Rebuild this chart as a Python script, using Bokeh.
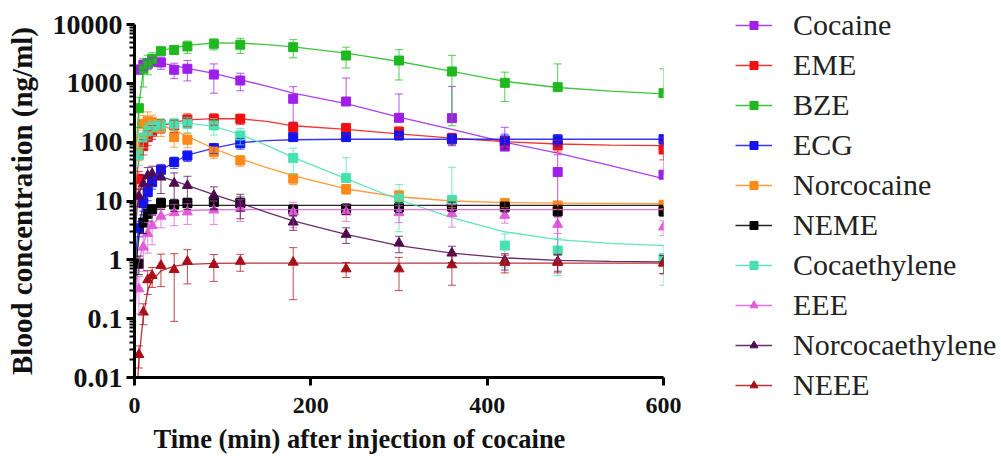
from bokeh.plotting import figure
from bokeh.layouts import row
from bokeh.models import (ColumnDataSource, FixedTicker, CustomJSTickFormatter, Whisker,
                          TeeHead, Legend, LegendItem, Range1d)
from bokeh.embed import file_html
from bokeh.resources import INLINE

# ---------------- data ----------------
times = [5, 10, 15, 20, 30, 45, 60, 90, 120, 180, 240, 300, 360, 420, 480, 600]
fit_times = [1, 3, 5, 10, 15, 20, 30, 45, 60, 90, 120, 150, 180, 240, 300, 360, 420, 480, 540, 600]

names = ["Cocaine", "EME", "BZE", "ECG", "Norcocaine", "NEME",
         "Cocaethylene", "EEE", "Norcocaethylene", "NEEE"]

cocaine_mean = [1720, 2070, 2150, 2350, 2260, 1700, 1770, 1410, 1117, 546, 491, 259, 256, 84, 31, 28]
cocaine_sd = [300, 400, 450, 400, 530, 500, 670, 730, 370, 330, 740, 400, 630, 95, 30, 90]
cocaine_fit = [1650, 1800, 1950, 2150, 2250, 2280, 2200, 2000, 1800, 1480, 1150, 900, 680, 450, 267, 165, 100, 65, 40, 24]

eme_mean = [23.8, 85.5, 122, 151, 192, 192, 243, 249, 249, 180, 173, 151, 117, 100, 88, 75]
eme_sd = [8, 25, 35, 40, 50, 45, 60, 55, 50, 40, 35, 30, 25, 25, 20, 25]
eme_fit = [5, 30, 50, 90, 125, 150, 185, 220, 240, 252, 250, 225, 190, 165, 138, 117, 102, 93, 89, 87]

bze_mean = [378, 1766, 2200, 2610, 3520, 3700, 4230, 4700, 4520, 4120, 2970, 2440, 1590, 1020, 860, 680]
bze_sd = [200, 900, 800, 700, 400, 600, 1000, 1000, 1300, 1400, 1150, 1300, 1400, 530, 1280, 1090]
bze_fit = [25, 150, 420, 1650, 2200, 2610, 3600, 4000, 4400, 4850, 4820, 4550, 4150, 3260, 2350, 1600, 1080, 850, 740, 660]

ecg_mean = [3.45, 9.2, 14.1, 20.9, 33.9, 45.7, 59, 79, 96, 122, 122, 130, 112, 107, 110, 112]
ecg_sd = [1, 2.5, 4, 5, 8, 10, 12, 15, 20, 18, 18, 20, 25, 30, 25, 20]
ecg_fit = [1, 2.2, 3.6, 9, 14, 21, 33, 46, 60, 79, 98, 106, 110, 112, 112, 112, 112, 112, 112, 112]

norcocaine_mean = [69, 205, 227, 218, 175, 122, 110, 68, 49, 24, 16, 12.4, 9.2, 9.2, 8.4, 8.6]
norcocaine_sd = [20, 80, 100, 70, 50, 40, 30, 15, 10, 5, 3, 2.5, 1.5, 1.5, 1.2, 1.2]
norcocaine_fit = [40, 120, 170, 215, 225, 220, 195, 160, 125, 78, 52, 37, 27, 16, 11.8, 10, 9.4, 9.2, 9.1, 9.0]

neme_mean = [0.86, 4.3, 6.05, 7.2, 9.2, 8.7, 9.2, 9.6, 9.2, 7.1, 7.4, 7.85, 8.1, 8.0, 6.7, 6.7]
neme_sd = [0.3, 1.5, 1.5, 1.5, 2, 2, 2, 2.5, 2.5, 1.5, 1.5, 1.5, 1.5, 1.5, 1.2, 1.2]
neme_fit = [0.3, 1.2, 2.5, 4.8, 6.3, 7.3, 8.1, 8.4, 8.4, 8.4, 8.4, 8.4, 8.4, 8.4, 8.4, 8.4, 8.4, 8.4, 8.4, 8.4]

cocaethylene_mean = [60, 120, 160, 180, 200, 205, 205, 192, 130, 54, 24.5, 11, 10.5, 1.75, 1.44, 1.07]
cocaethylene_sd = [20, 40, 50, 50, 50, 50, 60, 60, 40, 25, 30, 8, 27, 1.0, 0.9, 0.7]
cocaethylene_fit = [20, 60, 95, 145, 175, 190, 205, 212, 210, 185, 135, 88, 55, 24, 10.5, 5.2, 3.0, 2.2, 1.9, 1.75]

eee_mean = [0.32, 1.64, 2.8, 3.8, 5.5, 6.3, 6.5, 7.0, 7.5, 6.5, 6.5, 6.3, 6.1, 5.7, 4.0, 3.6]
eee_sd = [0.2, 1.0, 1.5, 2, 2, 2.5, 2.5, 3, 3, 3, 2, 2, 2.5, 1.5, 1.2, 1.0]
eee_fit = [0.15, 0.5, 0.9, 1.9, 3.0, 4.0, 5.4, 6.4, 6.9, 7.1, 7.15, 7.15, 7.15, 7.15, 7.15, 7.15, 7.15, 7.15, 7.15, 7.15]

norcocaethylene_mean = [12, 19.5, 27, 29, 25.4, 20, 18.3, 12.4, 9.0, 4.37, 2.7, 1.92, 1.3, 0.97, 0.94, 0.88]
norcocaethylene_sd = [4, 8, 10, 10, 12, 10, 8, 5, 4, 1.2, 0.8, 0.6, 0.4, 0.3, 0.3, 0.3]
norcocaethylene_fit = [3, 8, 13, 21, 26, 27.5, 26, 22, 18.5, 12.8, 9.2, 6.4, 4.6, 2.7, 1.75, 1.3, 1.08, 0.98, 0.94, 0.92]

neee_mean = [0.0245, 0.129, 0.457, 0.54, 0.8, 0.68, 0.94, 0.83, 0.94, 0.91, 0.70, 0.70, 0.82, 0.9, 0.9, 0.88]
neee_sd = [0.01, 0.05, 0.2, 0.2, 0.45, 0.59, 0.55, 0.4, 0.3, 0.7, 0.2, 0.4, 0.45, 0.3, 0.3, 0.3]
neee_fit = [0.001, 0.006, 0.02, 0.11, 0.3, 0.45, 0.65, 0.78, 0.84, 0.87, 0.88, 0.88, 0.88, 0.88, 0.88, 0.88, 0.88, 0.88, 0.88, 0.88]

colors = ["#9E1FE8", "#F01010", "#20B820", "#1414F0", "#FF8A1A",
          "#000000", "#48E0B0", "#E35BDB", "#500A50", "#A8101A"]
markers = ["square"] * 7 + ["triangle"] * 3

means = [cocaine_mean, eme_mean, bze_mean, ecg_mean, norcocaine_mean, neme_mean,
         cocaethylene_mean, eee_mean, norcocaethylene_mean, neee_mean]
sds = [cocaine_sd, eme_sd, bze_sd, ecg_sd, norcocaine_sd, neme_sd,
       cocaethylene_sd, eee_sd, norcocaethylene_sd, neee_sd]
fits = [cocaine_fit, eme_fit, bze_fit, ecg_fit, norcocaine_fit, neme_fit,
        cocaethylene_fit, eee_fit, norcocaethylene_fit, neee_fit]

x_ticks = [0, 200, 400, 600]
y_ticks = [0.01, 0.1, 1, 10, 100, 1000, 10000]
y_minor = [m * t for t in y_ticks[:-1] for m in range(2, 10)]

x_title = "Time (min) after injection of cocaine"
y_title = "Blood concentration (ng/ml)"

FONT = "Liberation Serif"

# ---------------- main plot ----------------
p = figure(width=700, height=459, y_axis_type="log",
           x_range=Range1d(0, 600), y_range=Range1d(0.01, 10000),
           output_backend="svg", toolbar_location=None,
           min_border_left=134, min_border_right=37,
           min_border_top=24, min_border_bottom=82,
           title_location="below")
p.frame_align = False
p.outline_line_color = None
p.xgrid.visible = False
p.ygrid.visible = False

# x-axis title as a left-aligned title below the axis (the reference title sits left of centre)
p.title.text = x_title
p.title.align = "left"
p.title.offset = 19
p.title.text_font = FONT
p.title.text_font_style = "bold"
p.title.text_font_size = "26.5px"
p.title.text_color = "#111111"
p.title.standoff = 12

# legend figure on the right (its swatch renderers sit outside its ranges)
q = figure(width=301, height=459, x_range=Range1d(-3, -2), y_range=Range1d(-3, -2),
           output_backend="svg", toolbar_location=None,
           x_axis_location=None, y_axis_location=None,
           min_border_left=0, min_border_right=0, min_border_top=0, min_border_bottom=0)
q.frame_align = False
q.outline_line_color = None
q.xgrid.visible = False
q.ygrid.visible = False

legend_items = []
for name, c, mk, m, s, f in zip(names, colors, markers, means, sds, fits):
    up = [a + b for a, b in zip(m, s)]
    lo = [a - b if a - b > 0 else a for a, b in zip(m, s)]
    src = ColumnDataSource(dict(t=times, m=m, up=up, lo=lo))
    w = Whisker(source=src, base="t", upper="up", lower="lo",
                line_color=c, line_width=1, line_alpha=0.75, level="glyph",
                upper_head=TeeHead(size=8, line_color=c, line_width=1, line_alpha=0.75),
                lower_head=TeeHead(size=8, line_color=c, line_width=1, line_alpha=0.75))
    p.add_layout(w)
    p.line(fit_times, f, line_color=c, line_width=1.3, line_alpha=0.85)
    size = 9 if mk == "square" else 10
    p.scatter("t", "m", source=src, marker=mk, size=size, fill_color=c, line_color=c)
    # legend swatches: same series drawn in the legend figure, out of its visible range
    lr = q.line(fit_times, f, line_color=c, line_width=1.3, line_alpha=0.85)
    sr = q.scatter("t", "m", source=src, marker=mk, size=size, fill_color=c, line_color=c)
    legend_items.append(LegendItem(label=name, renderers=[lr, sr]))

# axes
for ax in (p.xaxis[0], p.yaxis[0]):
    ax.axis_line_width = 3
    ax.axis_line_color = "black"
    ax.major_tick_line_width = 3
    ax.major_tick_in = 0
    ax.major_tick_out = 8
    ax.minor_tick_in = 0
    ax.major_label_text_font = FONT
    ax.major_label_text_font_style = "bold"
    ax.major_label_text_color = "#111111"
    ax.axis_label_text_font = FONT
    ax.axis_label_text_font_style = "bold"
    ax.axis_label_text_color = "#111111"

p.xaxis.ticker = FixedTicker(ticks=x_ticks, minor_ticks=[])
p.xaxis.major_label_text_font_size = "24px"
p.xaxis.major_label_standoff = 12

p.yaxis.ticker = FixedTicker(ticks=y_ticks, minor_ticks=y_minor)
p.yaxis.formatter = CustomJSTickFormatter(code="return String(tick);")
p.yaxis.minor_tick_out = 5
p.yaxis.minor_tick_line_width = 2
p.yaxis.major_label_text_font_size = "28px"
p.yaxis.major_label_standoff = 4
p.yaxis.axis_label = y_title
p.yaxis.axis_label_text_font_size = "29px"
p.yaxis.axis_label_standoff = 12

legend = Legend(items=legend_items, location=(35, 56),
                label_text_font=FONT, label_text_font_size="30px",
                label_text_color="#222222",
                glyph_width=37, glyph_height=20, label_height=36,
                label_standoff=21, spacing=4, padding=0, margin=0,
                border_line_color=None, background_fill_alpha=0)
q.add_layout(legend)

layout = row(p, q, spacing=0)
open("out.html", "w").write(file_html(layout, INLINE))
